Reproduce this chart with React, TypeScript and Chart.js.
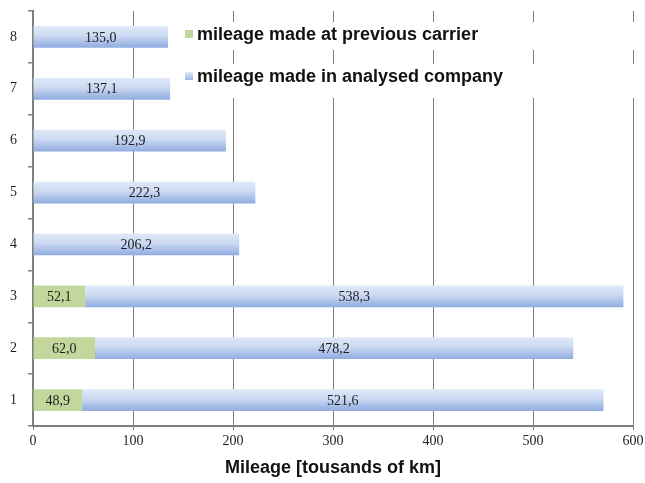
import React, { useEffect, useRef } from 'react';
import { Chart, registerables } from 'chart.js';

Chart.register(...registerables);

// Chart data
const categories = ['1', '2', '3', '4', '5', '6', '7', '8'];
const previousCarrier = [48.9, 62.0, 52.1, 0, 0, 0, 0, 0];
const analysedCompany = [521.6, 478.2, 538.3, 206.2, 222.3, 192.9, 137.1, 135.0];
const seriesLabels = ['mileage made at previous carrier', 'mileage made in analysed company'];
const xMin = 0;
const xMax = 600;
const xStep = 100;
const axisTitle = 'Mileage [tousands of km]';

const BAR_PCT = 0.42;
const GREEN = '#c3d69b';
const AXIS_GREY = '#7f7f7f';

// Vertical gradient for each blue bar, like the Excel fill
const blueFill = (ctx: any) => {
  const chart = ctx.chart;
  const y = chart.scales?.y;
  if (!chart.chartArea || !y || ctx.dataIndex === undefined) return '#b9cbee';
  const band = ((y.bottom - y.top) / categories.length) * BAR_PCT;
  const yc = y.getPixelForValue(ctx.dataIndex);
  const g = chart.ctx.createLinearGradient(0, yc - band / 2, 0, yc + band / 2);
  g.addColorStop(0, '#e1e9f8');
  g.addColorStop(0.45, '#cbd9f2');
  g.addColorStop(1, '#8fabe0');
  return g;
};

// Values written in the middle of each bar segment
const valueLabels = {
  id: 'valueLabels',
  afterDatasetsDraw(chart: any) {
    const { ctx } = chart;
    ctx.save();
    ctx.font = '14px "Liberation Serif"';
    ctx.fillStyle = '#1e1e1e';
    ctx.textAlign = 'center';
    ctx.textBaseline = 'middle';
    chart.data.datasets.forEach((ds: any, i: number) => {
      chart.getDatasetMeta(i).data.forEach((bar: any, j: number) => {
        const v = ds.data[j];
        if (!v) return;
        const { x, base, y } = bar.getProps(['x', 'base', 'y'], true);
        ctx.fillText(v.toFixed(1).replace('.', ','), (x + base) / 2, y + 1);
      });
    });
    ctx.restore();
  }
};

// Legend drawn inside the plot area, top middle
const insideLegend = {
  id: 'insideLegend',
  afterDatasetsDraw(chart: any) {
    const { ctx, chartArea } = chart;
    const left = chartArea.left + 152;
    const rows = [34, 76];
    ctx.save();
    ctx.fillStyle = '#ffffff';
    ctx.fillRect(left - 4, 22, chart.width - left + 4, 28);
    ctx.fillRect(left - 4, 64, chart.width - left + 4, 34);
    ctx.font = 'bold 18px "Liberation Sans"';
    ctx.textBaseline = 'middle';
    ctx.textAlign = 'left';
    rows.forEach((ry, i) => {
      if (i === 0) {
        ctx.fillStyle = GREEN;
      } else {
        const g = ctx.createLinearGradient(0, ry - 4, 0, ry + 4);
        g.addColorStop(0, '#e3eaf8');
        g.addColorStop(1, '#9ab4e3');
        ctx.fillStyle = g;
      }
      ctx.fillRect(left, ry - 4, 8, 8);
      ctx.fillStyle = '#111111';
      ctx.fillText(seriesLabels[i], left + 12, ry + 1);
    });
    ctx.restore();
  }
};

const App: React.FC = () => {
  const canvasRef = useRef<HTMLCanvasElement>(null);
  const chartRef = useRef<Chart | null>(null);

  useEffect(() => {
    const ctx = canvasRef.current?.getContext('2d');
    if (!ctx) return;
    if (chartRef.current) chartRef.current.destroy();

    chartRef.current = new Chart(ctx, {
      type: 'bar',
      data: {
        labels: categories,
        datasets: [
          {
            label: seriesLabels[0],
            data: previousCarrier,
            backgroundColor: GREEN,
            borderWidth: 0,
            barPercentage: BAR_PCT,
            categoryPercentage: 1
          },
          {
            label: seriesLabels[1],
            data: analysedCompany,
            backgroundColor: blueFill,
            borderWidth: 0,
            barPercentage: BAR_PCT,
            categoryPercentage: 1
          }
        ]
      },
      options: {
        indexAxis: 'y',
        animation: false,
        responsive: false,
        layout: { padding: { top: 11, right: 12, left: 0, bottom: 0 } },
        plugins: {
          legend: { display: false },
          tooltip: { enabled: false }
        },
        scales: {
          x: {
            stacked: true,
            min: xMin,
            max: xMax,
            ticks: {
              stepSize: xStep,
              padding: 3,
              color: '#1e1e1e',
              font: { family: '"Liberation Serif"', size: 14 }
            },
            grid: {
              color: AXIS_GREY,
              lineWidth: 1,
              tickLength: 4
            },
            border: { display: true, color: AXIS_GREY, width: 2 },
            title: {
              display: true,
              text: axisTitle,
              color: '#111111',
              font: { family: '"Liberation Sans"', size: 18, weight: 'bold' },
              padding: { top: 0, bottom: 4 }
            },
            afterFit: (scale: any) => {
              scale.height = 57;
              scale.paddingLeft = 0;
              scale.paddingRight = 0;
            }
          },
          y: {
            stacked: true,
            reverse: true,
            ticks: {
              padding: 11,
              color: '#1e1e1e',
              font: { family: '"Liberation Serif"', size: 14 }
            },
            grid: {
              offset: true,
              drawOnChartArea: false,
              drawTicks: true,
              tickLength: 5,
              color: AXIS_GREY,
              lineWidth: 1.5
            },
            border: { display: true, color: AXIS_GREY, width: 2 },
            afterFit: (scale: any) => {
              scale.width = 33;
              scale.paddingTop = 0;
              scale.paddingBottom = 0;
            }
          }
        }
      },
      plugins: [insideLegend, valueLabels]
    } as any);

    return () => {
      if (chartRef.current) {
        chartRef.current.destroy();
        chartRef.current = null;
      }
    };
  }, []);

  return (
    <div style={{ position: 'fixed', left: 0, top: 0, width: 645, height: 483, background: '#fff' }}>
      <canvas ref={canvasRef} width={645} height={483} />
    </div>
  );
};

export default App;
